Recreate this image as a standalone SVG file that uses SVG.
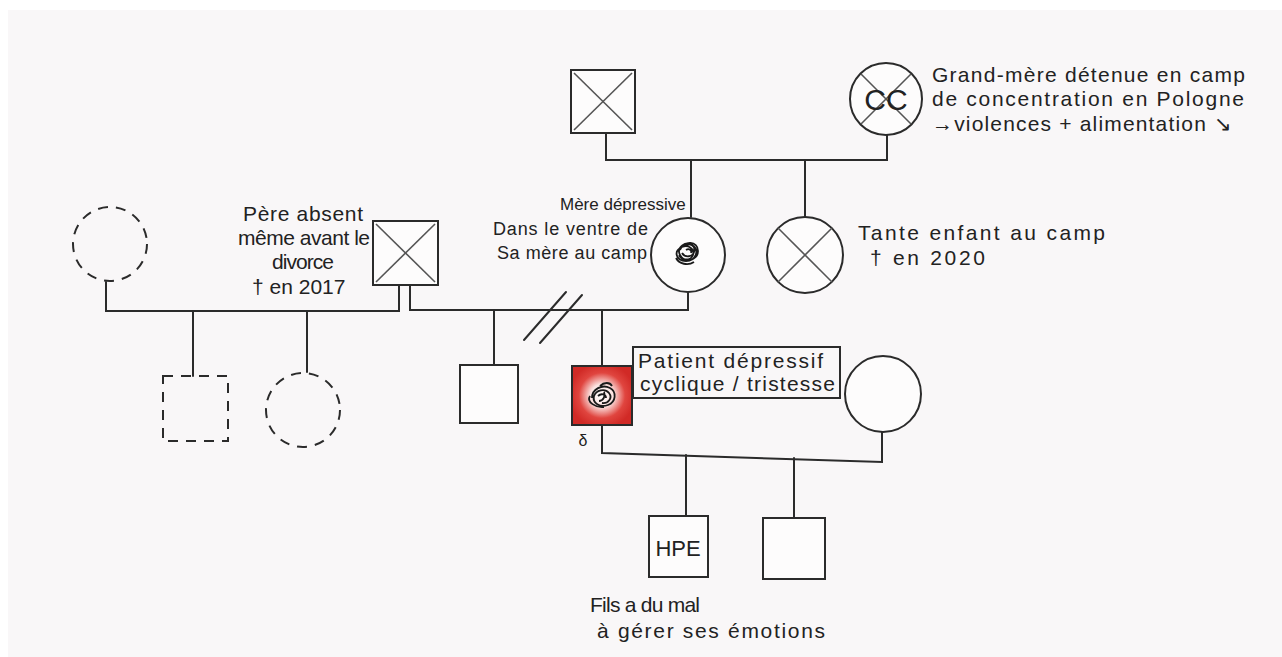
<svg xmlns="http://www.w3.org/2000/svg" width="1282" height="657" viewBox="0 0 1282 657">
<defs>
<style>
.ln{fill:none;stroke:#2b2b2b;stroke-width:2;stroke-linecap:round}
.sh{fill:#fdfcfc;stroke:#2b2b2b;stroke-width:2}
.dash{fill:none;stroke:#2b2b2b;stroke-width:2;stroke-dasharray:10 8}
.x{stroke:#555;stroke-width:1.6;fill:none}
.t{font-family:"Liberation Sans",Arial,sans-serif;font-size:21px;fill:#222}
.s{font-size:18px}
.xs{font-size:17px}
.scr{fill:none;stroke:#1a1a1a;stroke-width:1.8}
</style>
<radialGradient id="glow" cx="50%" cy="50%" r="55%">
<stop offset="0" stop-color="#ffffff"/>
<stop offset="0.35" stop-color="#fbe2e0"/>
<stop offset="0.7" stop-color="#e0453f"/>
<stop offset="1" stop-color="#d12a26"/>
</radialGradient>
</defs>
<rect x="0" y="0" width="1282" height="657" fill="#ffffff"/>
<rect x="8" y="10" width="1274" height="647" fill="#f9f7f8"/>

<g id="connectors">
<polyline class="ln" points="606,133 606,160 887,160 887,135"/>
<line class="ln" x1="691" y1="160" x2="691" y2="217"/>
<line class="ln" x1="805" y1="160" x2="805" y2="217"/>
<polyline class="ln" points="106,282 106,311 399,311 399,285"/>
<polyline class="ln" points="410,285 410,310 688,310 688,293"/>
<line class="ln" x1="193" y1="311" x2="193" y2="376"/>
<line class="ln" x1="307" y1="311" x2="307" y2="372"/>
<line class="ln" x1="494" y1="310" x2="494" y2="365"/>
<line class="ln" x1="602" y1="310" x2="602" y2="366"/>
<line class="ln" x1="524" y1="340" x2="566" y2="292"/>
<line class="ln" x1="540" y1="343" x2="582" y2="295"/>
<polyline class="ln" points="602,425 602,453 882,462 882,432"/>
<line class="ln" x1="686" y1="455" x2="686" y2="516"/>
<line class="ln" x1="794" y1="458" x2="794" y2="518"/>
</g>

<g id="grandfather">
<rect class="sh" x="571" y="70" width="64" height="63"/>
<line class="x" x1="574" y1="73" x2="632" y2="130"/>
<line class="x" x1="632" y1="73" x2="574" y2="130"/>
</g>

<g id="grandmother">
<circle class="sh" cx="886" cy="99" r="36"/>
<line class="x" x1="861" y1="74" x2="911" y2="124"/>
<line class="x" x1="911" y1="74" x2="861" y2="124"/>
<text class="t" x="886" y="110" text-anchor="middle" style="font-size:30px">CC</text>
<text class="t" x="932" y="82" textLength="313">Grand-mère détenue en camp</text>
<text class="t" x="932" y="106" textLength="312">de concentration en Pologne</text>
<text class="t" x="932" y="131" textLength="300">→violences + alimentation ↘</text>
</g>

<g id="mother">
<circle class="sh" cx="688" cy="255" r="37"/>
<path class="scr" d="M680,250 c4,-10 18,-9 18,1 c0,10 -14,12 -18,4 c-4,-8 6,-14 12,-10 c8,5 4,16 -6,16 c-10,0 -13,-10 -4,-14 c6,-3 13,2 11,8 c-2,6 -12,6 -14,0 M684,246 c6,-4 12,0 10,6 c-1,5 -9,6 -12,1 M676,258 c3,6 12,8 18,4 M686,250 c3,-2 6,0 5,3"/>
<text class="t xs" x="560" y="210">Mère dépressive</text>
<text class="t s" x="493" y="235" textLength="155">Dans le ventre de</text>
<text class="t s" x="497" y="259" textLength="150">Sa mère au camp</text>
</g>

<g id="aunt">
<circle class="sh" cx="805" cy="255" r="38"/>
<line class="x" x1="778" y1="228" x2="832" y2="282"/>
<line class="x" x1="832" y1="228" x2="778" y2="282"/>
<text class="t" x="858" y="240" textLength="247">Tante enfant au camp</text>
<text class="t" x="870" y="265" textLength="115">† en 2020</text>
</g>

<g id="father">
<rect class="sh" x="373" y="221" width="65" height="64"/>
<line class="x" x1="376" y1="224" x2="435" y2="282"/>
<line class="x" x1="435" y1="224" x2="376" y2="282"/>
<text class="t" x="243" y="221" textLength="120">Père absent</text>
<text class="t" x="238" y="245" textLength="132">même avant le</text>
<text class="t" x="272" y="269" textLength="62">divorce</text>
<text class="t" x="252" y="294">† en 2017</text>
</g>

<g id="father-ex-partner">
<circle class="dash" cx="110" cy="244" r="37"/>
</g>

<g id="half-brother">
<rect class="dash" x="163" y="376" width="65" height="65"/>
</g>

<g id="half-sister">
<circle class="dash" cx="303" cy="410" r="37"/>
</g>

<g id="brother">
<rect class="sh" x="460" y="365" width="58" height="58"/>
</g>

<g id="patient">
<rect x="572" y="366" width="60" height="59" fill="url(#glow)" stroke="#2b2b2b" stroke-width="2"/>
<path class="scr" d="M592,398 c0,-9 10,-14 18,-10 c7,4 6,14 -2,17 c-8,3 -16,-2 -14,-9 c2,-6 11,-8 15,-3 c4,5 -1,11 -7,10 M600,386 c4,-4 10,-4 12,0 M590,396 c-4,6 6,12 14,11 M604,392 c2,4 -1,9 -5,9 M598,396 c3,-3 8,-2 8,2" stroke-width="2.4"/>
<text class="t" x="583" y="446" text-anchor="middle" style="font-size:16px">δ</text>
<rect x="633" y="347" width="207" height="51" fill="none" stroke="#2b2b2b" stroke-width="2"/>
<text class="t" x="638" y="368" textLength="185">Patient dépressif</text>
<text class="t" x="640" y="391" textLength="195">cyclique / tristesse</text>
</g>

<g id="wife">
<circle class="sh" cx="883" cy="394" r="38"/>
</g>

<g id="son-hpe">
<rect class="sh" x="649" y="516" width="59" height="61"/>
<text class="t" x="678" y="556" text-anchor="middle" style="font-size:22px">HPE</text>
<text class="t" x="590" y="612" textLength="110">Fils a du mal</text>
<text class="t" x="597" y="638" textLength="228">à gérer ses émotions</text>
</g>

<g id="son2">
<rect class="sh" x="763" y="518" width="62" height="61"/>
</g>
</svg>
